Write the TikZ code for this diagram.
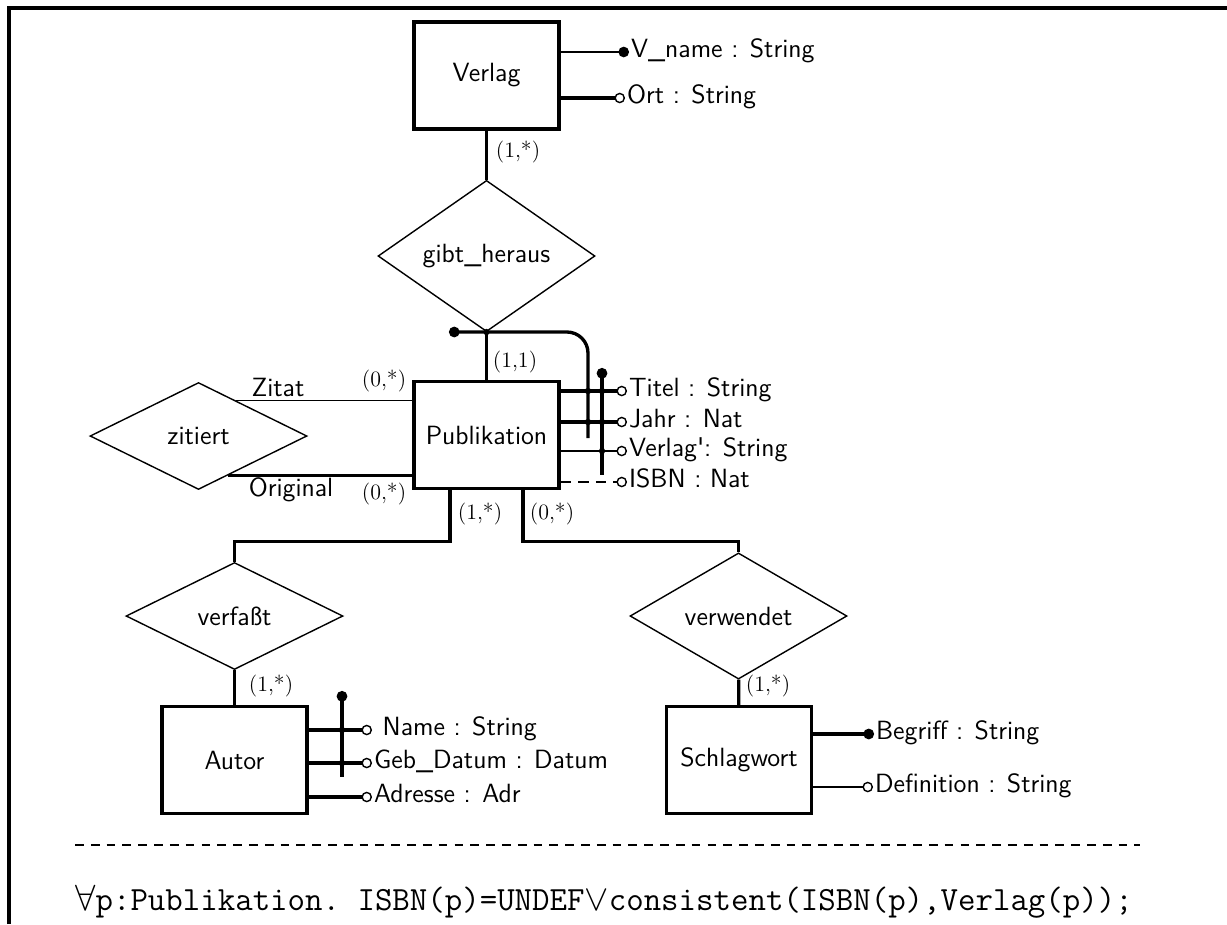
\documentclass[tikz,border=0pt]{standalone}
\usepackage{fontspec}
\usetikzlibrary{shapes.geometric,arrows.meta,calc}

\tikzset{
  entity/.style={draw, line width=2pt, minimum width=2.9cm, minimum height=2.14cm,
    font=\fontsize{15}{18}\sffamily},
  relship/.style={diamond, draw, line width=0.8pt, inner sep=0pt, minimum width=4.34cm,
    minimum height=2.14cm, font=\fontsize{15}{18}\sffamily},
  attr/.style={anchor=west, inner sep=1pt, text height=1.5ex, text depth=0pt,
    font=\fontsize{15}{18}\sffamily},
  rolle/.style={inner sep=0pt, text height=1.5ex, text depth=0pt, font=\fontsize{15}{18}\sffamily},
  card/.style={inner sep=0pt, font=\fontsize{12.5}{15}\rmfamily},
  conn/.style={line width=1.9pt},
  thinconn/.style={line width=1pt},
  opt/.style={-{Circle[open, length=6pt, line width=0.8pt]}},
  key/.style={-{Circle[length=6pt]}},
  keyline/.style={line width=1.9pt, {Circle[length=6pt]}-}
}

\begin{document}
\begin{tikzpicture}[x=0.02cm, y=-0.02cm]
\useasboundingbox (0,0) rectangle (1227,924);
% Rahmen
\draw[line width=2.2pt] (9,924) -- (9,8) -- (1227,8);

% Entities
\node[entity] (verlag) at (486.5,75.5) {Verlag};
\node[entity] (pub) at (486.5,435) {Publikation};
\node[entity] (autor) at (234.5,760) {Autor};
\node[entity] (schlag) at (739,760) {Schlagwort};

% Beziehungen
\node[relship] (gibt) at (486.5,256) {gibt\_heraus};
\node[relship] (zit) at (198.5,436) {zitiert};
\node[relship] (verf) at (234.5,616) {verfaßt};
\node[relship] (verw) at (738.5,616) {verwendet};

% Attribute
\node[attr] (vname) at (629,52) {V\_name : String};
\node[attr] (ort) at (625,98) {Ort : String};
\node[attr] (titel) at (627,391) {Titel : String};
\node[attr] (jahr) at (627,422) {Jahr : Nat};
\node[attr] (verlagp) at (627,451) {Verlag{\textquotesingle}: String};
\node[attr] (isbn) at (627,482) {ISBN : Nat};
\node[attr] (name) at (372,730) {\ Name : String};
\node[attr] (gebdat) at (372,763) {Geb\_Datum : Datum};
\node[attr] (adresse) at (372,797) {Adresse : Adr};
\node[attr] (begriff) at (874,734) {Begriff : String};
\node[attr] (defin) at (873,787) {Definition : String};

\draw[thinconn, key] (verlag.east |- vname) -- (vname.west);
\draw[conn, opt] (verlag.east |- ort) -- (ort.west);
\draw[conn, opt] (pub.east |- titel) -- (titel.west);
\draw[conn, opt] (pub.east |- jahr) -- (jahr.west);
\draw[thinconn, opt] (pub.east |- verlagp) -- (verlagp.west);
\draw[thinconn, opt, dash pattern=on 6pt off 4pt] (pub.east |- isbn) -- (isbn.west);
\draw[conn, opt] (autor.east |- name) -- (name.west);
\draw[conn, opt] (autor.east |- gebdat) -- (gebdat.west);
\draw[conn, opt] (autor.east |- adresse) -- (adresse.west);
\draw[conn, key] (schlag.east |- begriff) -- (begriff.west);
\draw[thinconn, opt] (schlag.east |- defin) -- (defin.west);

% Verbindungen
\draw[conn] (verlag) -- (gibt);
\draw[conn] (gibt) -- (pub);
\coordinate (zitat) at ($(zit.north)!0.346!(zit.east)$);
\coordinate (orig) at ($(zit.east)!0.73!(zit.south)$);
\draw[thinconn] (zitat) -- (zitat -| pub.west);
\draw[conn] (orig) -- (orig -| pub.west);
\draw[conn] ($(pub.south west)!0.255!(pub.south east)$) -- ++(0,51) -| (verf.north);
\draw[conn] ($(pub.south west)!0.745!(pub.south east)$) -- ++(0,51) -| (verw.north);
\draw[conn] (verf) -- (autor);
\draw[conn] (verw) -- (schlag);

% Schluessel
\draw[keyline, rounded corners=12pt] (449,332) -- (588,332) -- (588,438);
\draw[keyline] (602,368) -- (602,475);
\draw[keyline] (342,691) -- (342,777);
\foreach \p in {(486.5,332),(588,391),(588,422),(602,391),(602,422),(602,451),(342,730),(342,763)}
  \fill \p circle (1.8pt);

% Kardinalitaeten
\node[card] (cverlag) at (518,152) {(1,*)};
\node[card] (cpub) at (515,362) {(1,1)};
\node[card] (czitat) at (384,381) {(0,*)};
\node[card] (corig) at (384,494) {(0,*)};
\node[card] (cverf) at (480,514) {(1,*)};
\node[card] (cverw) at (552,514) {(0,*)};
\node[card] (cautor) at (271,686) {(1,*)};
\node[card] (cschlag) at (768,686) {(1,*)};
\node[rolle] (lzitat) at (278,391) {Zitat};
\node[rolle] (lorig) at (291,491) {Original};

% Bedingung
\draw[line width=0.8pt, dash pattern=on 5pt off 4pt] (75,845) -- (1140,845);
\node[anchor=base west, inner sep=0pt, font=\fontsize{19.3}{23}\ttfamily] (formel) at (75,910)
  {$\forall$p:Publikation.\ ISBN(p)=UNDEF$\vee$consistent(ISBN(p),Verlag(p));};
\end{tikzpicture}
\end{document}
